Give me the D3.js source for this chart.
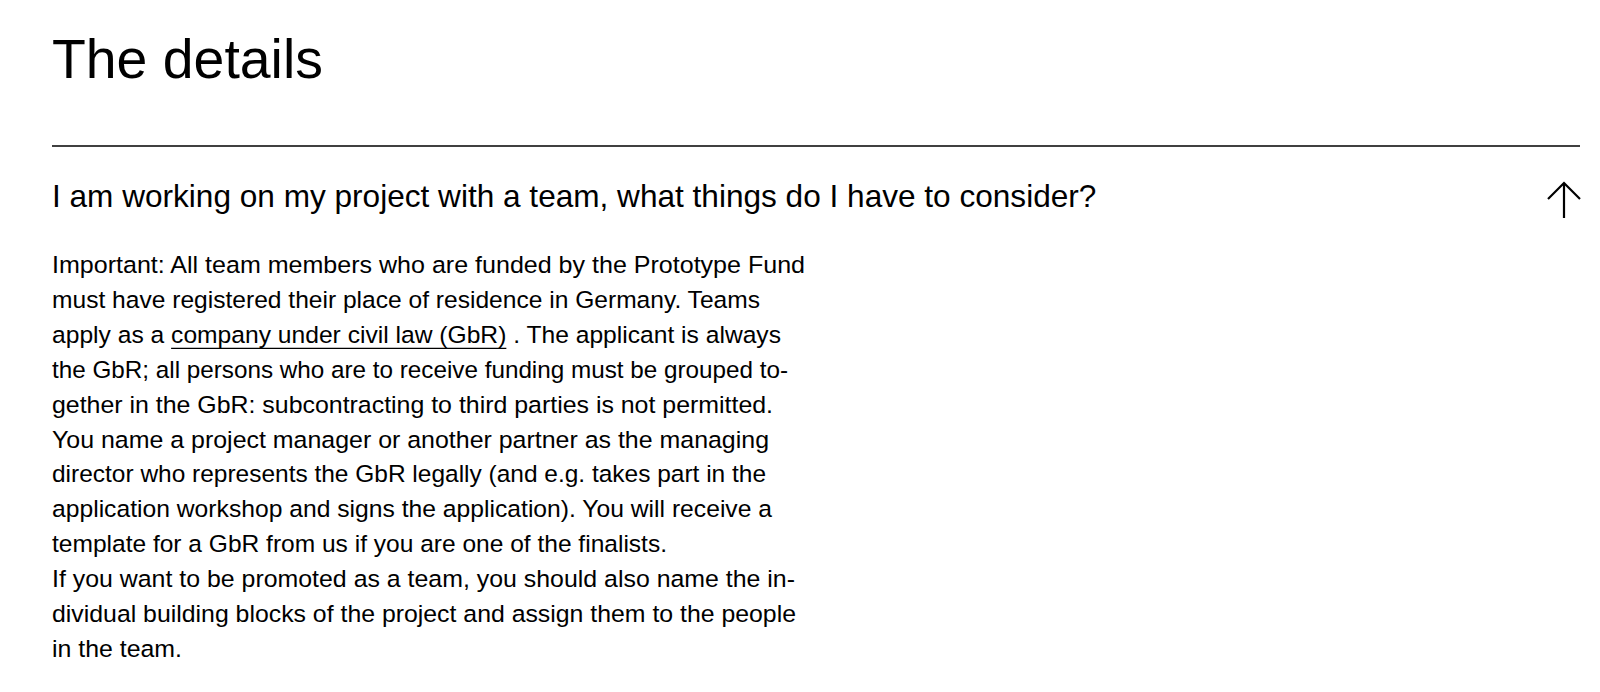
<!DOCTYPE html>
<html>
<head>
<meta charset="utf-8">
<script src="https://cdn.jsdelivr.net/npm/d3@7"></script>
<style>
  html, body { margin: 0; padding: 0; background: #fff; }
  svg { display: block; }
</style>
</head>
<body>
<svg id="page" width="1600" height="692"></svg>
<script>
// ---- content ----
const titleText = "The details";
const questionText = "I am working on my project with a team, what things do I have to consider?";
// each body line as a list of segments: [text, isLink]
const bodyLines = [
  [["Important: All team members who are funded by the Prototype Fund", false]],
  [["must have registered their place of residence in Germany. Teams", false]],
  [["apply as a ", false], ["company under civil law (GbR)", true], [" . The applicant is always", false]],
  [["the GbR; all persons who are to receive funding must be grouped to-", false]],
  [["gether in the GbR: subcontracting to third parties is not permitted.", false]],
  [["You name a project manager or another partner as the managing", false]],
  [["director who represents the GbR legally (and e.g. takes part in the", false]],
  [["application workshop and signs the application). You will receive a", false]],
  [["template for a GbR from us if you are one of the finalists.", false]],
  [["If you want to be promoted as a team, you should also name the in-", false]],
  [["dividual building blocks of the project and assign them to the people", false]],
  [["in the team.", false]]
];

// ---- layout (rendered line lengths of the wrapped paragraph) ----
const FONT = "'Liberation Sans', Arial, sans-serif";
const left = 52, right = 1580;
const lineLengths = [753, 708, 729, 736, 721, 717, 714, 720, 615, 743, 744, 130];
const svg = d3.select("#page");

function fitSize(sel, target) {
  const w = sel.node().getComputedTextLength();
  const fs = parseFloat(sel.attr("font-size"));
  sel.attr("font-size", fs * target / w);
}

// Title
const title = svg.append("text")
  .attr("x", left).attr("y", 78)
  .attr("font-family", FONT).attr("font-size", 58)
  .attr("fill", "#000")
  .text(titleText);
fitSize(title, 271);

// Rule
svg.append("line")
  .attr("x1", left).attr("x2", right)
  .attr("y1", 146).attr("y2", 146)
  .attr("stroke", "#000").attr("stroke-width", 1.4);

// Question
const q = svg.append("text")
  .attr("x", left).attr("y", 207)
  .attr("font-family", FONT).attr("font-size", 28)
  .attr("fill", "#000")
  .text(questionText);
fitSize(q, 1045);

// Arrow (up)
const arrow = d3.path();
arrow.moveTo(1564, 218); arrow.lineTo(1564, 183);
arrow.moveTo(1548, 199); arrow.lineTo(1564, 183); arrow.lineTo(1580, 199);
svg.append("path")
  .attr("d", arrow.toString())
  .attr("fill", "none").attr("stroke", "#000")
  .attr("stroke-width", 2.2).attr("stroke-linecap", "butt");

// Body lines
const lineY = d3.scaleLinear().domain([0, bodyLines.length - 1]).range([273, 657]);

const body = svg.append("g")
  .attr("font-family", FONT)
  .attr("fill", "#000");

const texts = body.selectAll("text.line")
  .data(bodyLines)
  .join("text")
  .attr("class", "line")
  .attr("x", left)
  .attr("y", (d, i) => lineY(i))
  .attr("font-size", 22);

texts.selectAll("tspan")
  .data(d => d)
  .join("tspan")
  .text(d => d[0]);

// base font size from the median ratio, then fit each line exactly
const ratios = texts.nodes().map((n, i) => lineLengths[i] / n.getComputedTextLength());
const bodyFs = 22 * d3.median(ratios);
texts.attr("font-size", bodyFs)
  .attr("textLength", (d, i) => lineLengths[i])
  .attr("lengthAdjust", "spacingAndGlyphs");

// underline for link segments
texts.each(function (segs, i) {
  const el = this;
  let idx = 0;
  segs.forEach(s => {
    const len = s[0].length;
    if (s[1]) {
      const x0 = el.getStartPositionOfChar(idx).x;
      const x1 = el.getEndPositionOfChar(idx + len - 1).x;
      body.append("line")
        .attr("x1", x0).attr("x2", x1)
        .attr("y1", lineY(i) + 5.5).attr("y2", lineY(i) + 5.5)
        .attr("stroke", "#000").attr("stroke-width", 1.2);
    }
    idx += len;
  });
});
</script>
</body>
</html>
